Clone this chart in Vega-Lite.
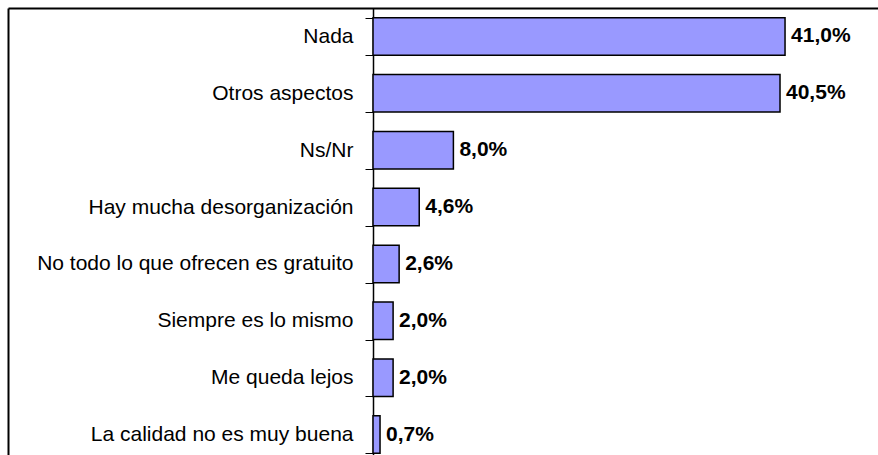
{
  "$schema": "https://vega.github.io/schema/vega-lite/v6.json",
  "width": 870,
  "height": 447,
  "autosize": {"type": "none"},
  "padding": {"left": 8, "top": 8, "right": 0, "bottom": 0},
  "background": "white",
  "config": {
    "view": {"stroke": null},
    "font": "Liberation Sans",
    "locale": {"number": {"decimal": ",", "thousands": ".", "grouping": [3], "currency": ["", " €"]}}
  },
  "data": {
    "values": [
      {"cat": "Nada", "v": 0.410},
      {"cat": "Otros aspectos", "v": 0.405},
      {"cat": "Ns/Nr", "v": 0.080},
      {"cat": "Hay mucha desorganización", "v": 0.046},
      {"cat": "No todo lo que ofrecen es gratuito", "v": 0.026},
      {"cat": "Siempre es lo mismo", "v": 0.020},
      {"cat": "Me queda lejos", "v": 0.020},
      {"cat": "La calidad no es muy buena", "v": 0.007}
    ]
  },
  "encoding": {
    "y": {
      "field": "cat",
      "type": "nominal",
      "sort": null,
      "scale": {"range": [0, 455], "paddingInner": 0.34, "paddingOuter": 0.17},
      "axis": {
        "title": null,
        "orient": "left",
        "offset": -365,
        "domainColor": "black",
        "domainWidth": 1.5,
        "tickColor": "black",
        "tickWidth": 1,
        "tickSize": 8,
        "tickBand": "extent",
        "labelPadding": 12,
        "labelFont": "Liberation Sans",
        "labelFontSize": 21,
        "labelColor": "black",
        "labelLimit": 0,
        "grid": false
      }
    },
    "x": {
      "field": "v",
      "type": "quantitative",
      "scale": {"domain": [-0.3632, 0.5025], "nice": false, "zero": false},
      "axis": {
        "orient": "top",
        "values": [-0.3632],
        "grid": true,
        "gridColor": "black",
        "gridWidth": 2,
        "gridOpacity": 1,
        "domain": true,
        "domainColor": "black",
        "domainWidth": 2,
        "ticks": false,
        "labels": false,
        "title": null
      }
    }
  },
  "layer": [
    {"mark": {"type": "bar", "fill": "#9999FF", "stroke": "black", "strokeWidth": 1.5}},
    {
      "mark": {"type": "text", "align": "left", "baseline": "middle", "dx": 6, "fontWeight": "bold", "fontSize": 21, "font": "Liberation Sans", "color": "black"},
      "encoding": {"text": {"field": "v", "type": "quantitative", "format": ".1%"}}
    }
  ]
}
